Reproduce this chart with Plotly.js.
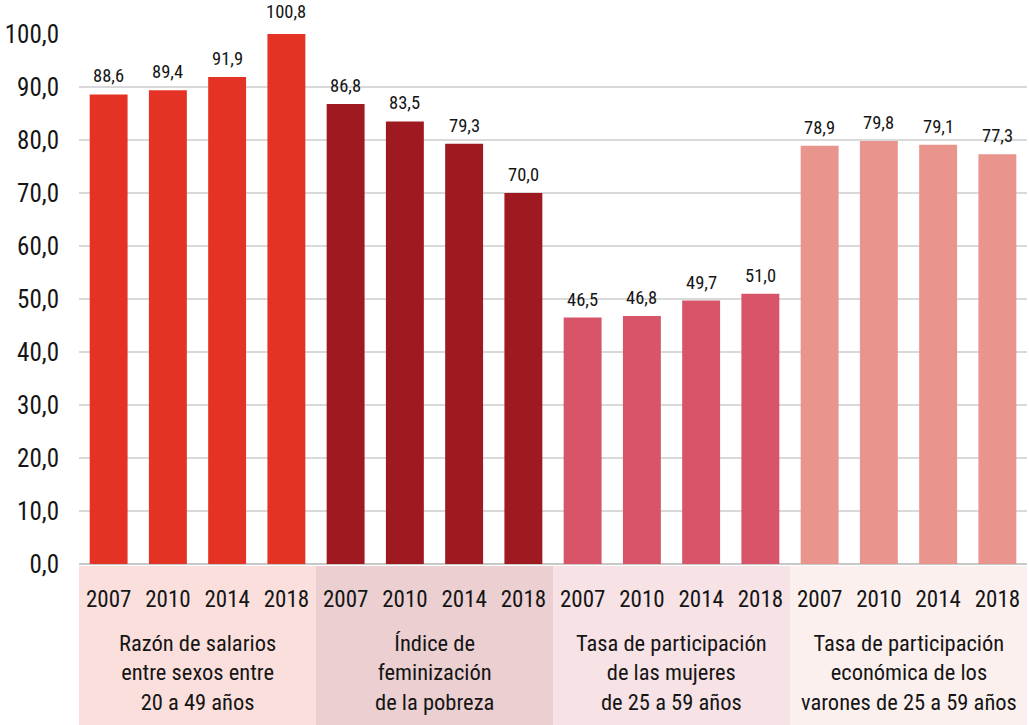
<!DOCTYPE html>
<html>
<head>
<meta charset="utf-8">
<script src="https://cdn.plot.ly/plotly-3.0.1.min.js"></script>
<style>html,body{margin:0;padding:0;background:#fff;}#chart{width:1029px;height:725px;}</style>
</head>
<body>
<div id="chart"></div>
<script>
// ---- data ----
var years = ["2007", "2010", "2014", "2018"];
var groupLabels = [
  "Razón de salarios<br>entre sexos entre<br>20 a 49 años",
  "Índice de<br>feminización<br>de la pobreza",
  "Tasa de participación<br>de las mujeres<br>de 25 a 59 años",
  "Tasa de participación<br>económica de los<br>varones de 25 a 59 años"
];
var razonSalarios = [88.6, 89.4, 91.9, 100.8];
var indiceFeminizacion = [86.8, 83.5, 79.3, 70.0];
var tasaMujeres = [46.5, 46.8, 49.7, 51.0];
var tasaVarones = [78.9, 79.8, 79.1, 77.3];
var barColors = ["#E43325", "#9E1A20", "#D85469", "#E9958D"];
var bandColors = ["#FADFDC", "#EBCFD1", "#F7E2E5", "#FCF0EF"];
var YMAX = 100;

var series = [razonSalarios, indiceFeminizacion, tasaMujeres, tasaVarones];
var FONT = "'Liberation Sans Narrow', 'Roboto Condensed', Roboto, sans-serif";
var TXT = "#151515";

var traces = [];
var tickvals = [], ticktext = [];
var shapes = [], annotations = [];
series.forEach(function (vals, g) {
  var xs = vals.map(function (v, i) { return g * years.length + i; });
  traces.push({
    type: "bar", x: xs, y: vals, width: 0.64,
    marker: { color: barColors[g] }, hoverinfo: "skip", showlegend: false
  });
  xs.forEach(function (x, i) {
    tickvals.push(x); ticktext.push(years[i]);
    annotations.push({
      xref: "x", yref: "y domain", x: x, y: vals[i] / YMAX,
      xanchor: "center", yanchor: "bottom",
      yshift: 5, showarrow: false,
      text: vals[i].toFixed(1).replace(".", ","),
      font: { family: FONT, size: 18.5, color: TXT }
    });
  });
  shapes.push({
    type: "rect", layer: "below", xref: "x", yref: "paper",
    x0: xs[0] - 0.5, x1: xs[xs.length - 1] + 0.5, y0: -0.31, y1: -0.004,
    fillcolor: bandColors[g], line: { width: 0 }
  });
  annotations.push({
    xref: "x", yref: "paper", x: (xs[0] + xs[xs.length - 1]) / 2, y: -0.121,
    xanchor: "center", yanchor: "top", showarrow: false, align: "center",
    text: groupLabels[g], font: { family: FONT, size: 22.5, color: TXT }
  });
});

var layout = {
  width: 1029, height: 725,
  margin: { l: 79, r: 2, t: 34, b: 161 },
  paper_bgcolor: "#fff", plot_bgcolor: "#fff",
  separators: ",.",
  barmode: "overlay",
  font: { family: FONT, color: TXT },
  xaxis: {
    range: [-0.5, 15.5], tickvals: tickvals, ticktext: ticktext,
    showgrid: false, zeroline: false, showline: false, ticks: "",
    ticklabelstandoff: 19, tickfont: { family: FONT, size: 23, color: TXT }, fixedrange: true
  },
  yaxis: {
    range: [0, YMAX], dtick: 10, tickformat: ".1f",
    showgrid: true, gridcolor: "#D9D9D9", gridwidth: 1.5,
    zeroline: true, zerolinecolor: "#C8C8C8", zerolinewidth: 2.5,
    showline: false, ticks: "", ticklabelstandoff: 19,
    tickfont: { family: FONT, size: 25, color: TXT }, fixedrange: true
  },
  shapes: shapes,
  annotations: annotations
};
Plotly.newPlot("chart", traces, layout, { displayModeBar: false, staticPlot: true });
</script>
</body>
</html>
